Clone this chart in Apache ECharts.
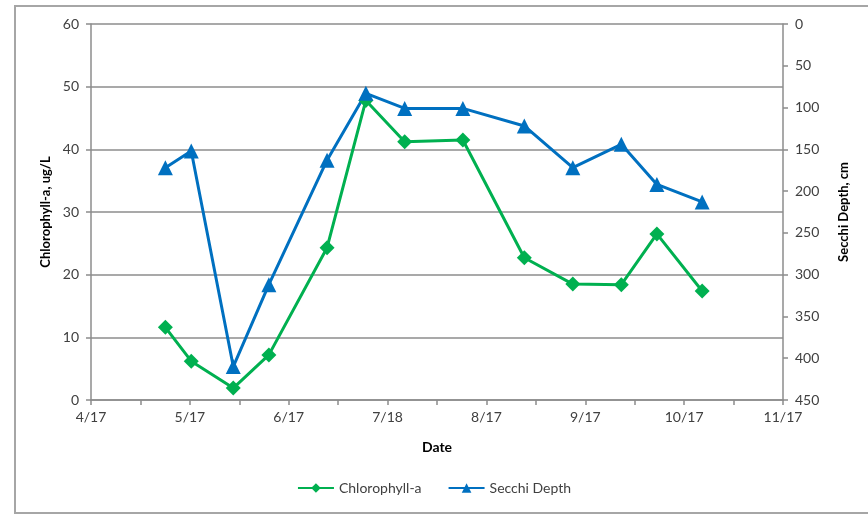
<!DOCTYPE html>
<html>
<head>
<meta charset="utf-8">
<script src="https://cdn.jsdelivr.net/npm/echarts@6/dist/echarts.min.js"></script>
<style>
    html, body { margin: 0; padding: 0; background: #fff; }
    #frame {
        position: absolute; left: 14px; top: 5px; width: 900px; height: 505px;
        border: 2px solid #a6a6a6; border-right: none;
    }
    #chart { position: absolute; left: 0; top: 0; width: 868px; height: 514px; }
</style>
</head>
<body>
<div id="frame"></div>
<div id="chart"></div>
<script>
// 采样日期
const sampleDates = [
    "2013-05-10", "2013-05-18", "2013-05-31", "2013-06-11", "2013-06-29",
    "2013-07-11", "2013-07-23", "2013-08-10", "2013-08-29", "2013-09-13",
    "2013-09-28", "2013-10-09", "2013-10-23",
];
// 叶绿素 ug/L
const chlorophyll = [11.6, 6.2, 1.9, 7.2, 24.3, 47.8, 41.2, 41.5, 22.7, 18.5, 18.4, 26.5, 17.4];
// 透明度 cm
const secchi = [172, 152, 410, 312, 163, 83, 101, 101, 122, 172, 144, 192, 213];
// x轴标签
const dateLabels = ["4/17", "5/17", "6/17", "7/18", "8/17", "9/17", "10/17", "11/17"];

const startDate = "2013-04-17";
const endDate = "2013-11-17";
const DAY = 24 * 3600 * 1000;
const dayOf = (d) => Math.round((Date.parse(d) - Date.parse(startDate)) / DAY);
const totalDays = dayOf(endDate);
const halfStep = totalDays / 14;

const chlData = sampleDates.map((d, i) => [dayOf(d), chlorophyll[i]]);
const secchiData = sampleDates.map((d, i) => [dayOf(d), secchi[i]]);

const green = "#00b050";
const blue = "#0070c0";
const textColor = "#404040";
const gridColor = "#8c8c8c";
const font = "Lato";

const chartDom = document.getElementById("chart");
const myChart = echarts.init(chartDom);

const option = {
    animation: false,
    textStyle: { fontFamily: font },
    grid: { left: 91, right: 85, top: 24, bottom: 114 },
    legend: {
        bottom: 14,
        left: "center",
        itemWidth: 36,
        itemHeight: 12,
        itemGap: 26,
        textStyle: { fontSize: 14, color: textColor, fontFamily: font },
        data: ["Chlorophyll-a", "Secchi Depth"],
    },
    xAxis: {
        type: "value",
        min: 0,
        max: totalDays,
        interval: halfStep,
        name: "Date",
        nameLocation: "middle",
        nameGap: 40,
        nameTextStyle: { fontWeight: "bold", fontSize: 14, color: "#000", fontFamily: font },
        axisLine: { show: true, lineStyle: { color: gridColor, width: 1.5 } },
        axisTick: { show: true, length: 5, lineStyle: { color: gridColor, width: 1.5 } },
        splitLine: { show: false },
        axisLabel: {
            fontSize: 14,
            color: textColor,
            margin: 10,
            formatter: (v) => {
                const k = Math.round(v / halfStep);
                return k % 2 === 0 ? dateLabels[k / 2] : "";
            },
        },
    },
    yAxis: [
        {
            type: "value",
            min: 0,
            max: 60,
            interval: 10,
            name: "Chlorophyll-a, ug/L",
            nameLocation: "middle",
            nameGap: 37,
            nameRotate: 90,
            nameTextStyle: { fontWeight: "bold", fontSize: 13, color: "#000", fontFamily: font },
            axisLine: { show: true, lineStyle: { color: gridColor, width: 1.5 } },
            axisTick: { show: true, length: 5, lineStyle: { color: gridColor, width: 1.5 } },
            splitLine: { show: true, lineStyle: { color: gridColor, width: 1.5 } },
            axisLabel: { fontSize: 14, color: textColor, margin: 12 },
        },
        {
            type: "value",
            min: 0,
            max: 450,
            interval: 50,
            inverse: true,
            position: "right",
            name: "Secchi Depth, cm",
            nameLocation: "middle",
            nameGap: 54,
            nameRotate: 90,
            nameTextStyle: { fontWeight: "bold", fontSize: 13, color: "#000", fontFamily: font },
            axisLine: { show: true, lineStyle: { color: gridColor, width: 1.5 } },
            axisTick: { show: true, length: 5, lineStyle: { color: gridColor, width: 1.5 } },
            splitLine: { show: false },
            axisLabel: { fontSize: 14, color: textColor, margin: 12 },
        },
    ],
    series: [
        {
            name: "Chlorophyll-a",
            type: "line",
            yAxisIndex: 0,
            data: chlData,
            symbol: "diamond",
            symbolSize: 15,
            color: green,
            lineStyle: { width: 3, color: green },
            itemStyle: { color: green },
        },
        {
            name: "Secchi Depth",
            type: "line",
            yAxisIndex: 1,
            data: secchiData,
            symbol: "triangle",
            symbolSize: 15,
            color: blue,
            lineStyle: { width: 3, color: blue },
            itemStyle: { color: blue },
        },
    ],
};

myChart.setOption(option);
</script>
</body>
</html>
